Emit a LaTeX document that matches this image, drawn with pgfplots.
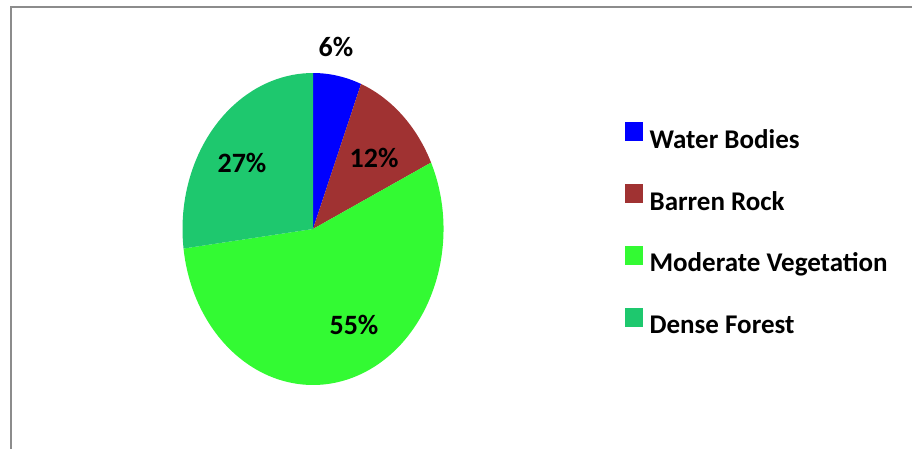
\documentclass[border=0pt]{standalone}
\usepackage{pgfplots}
\pgfplotsset{compat=1.18}
\usepackage{pgfplotstable}
\usepackage{fontspec}
\setmainfont{Carlito}
\definecolor{c0}{RGB}{0,0,255}
\definecolor{c1}{RGB}{160,50,50}
\definecolor{c2}{RGB}{51,250,51}
\definecolor{c3}{RGB}{30,200,110}
\definecolor{framegray}{RGB}{140,140,140}

\pgfplotstableread{
name value
Water 6
Barren 12
Moderate 55
Dense 27
}\piedata

\begin{document}
\begin{tikzpicture}
\begin{axis}[
  at={(0,0)}, anchor=south west,
  width=912pt, height=448pt, scale only axis,
  xmin=0, xmax=912, ymin=0, ymax=448,
  hide axis, clip=false,
  legend style={at={(axis cs:625,326)}, anchor=north west, draw=none, fill=none,
    font=\fontsize{27}{30}\selectfont\bfseries, row sep=32.5pt, inner sep=0pt,
    nodes={inner sep=2pt}},
  legend cell align=left,
  legend image code/.code={\fill[#1] (0pt,-1pt) rectangle (17pt,17pt);\path (22pt,0pt);},
]
\pgfmathsetmacro\pstart{90}
\pgfplotsforeachungrouped \i in {0,...,3}{%
  \pgfplotstablegetelem{\i}{value}\of\piedata
  \pgfmathsetmacro\pstop{\pstart-3.6*\pgfplotsretval}%
  \edef\tmp{\noexpand\fill[c\i] (axis cs:313,219) -- ([shift={(\pstart:130.5pt and 156pt)}]axis cs:313,219) arc[start angle=\pstart, end angle=\pstop, x radius=130.5pt, y radius=156pt] -- cycle;}%
  \tmp
  \global\let\pstart\pstop
}
\addlegendimage{c0}\addlegendentry{Water Bodies}
\addlegendimage{c1}\addlegendentry{Barren Rock}
\addlegendimage{c2}\addlegendentry{Moderate Vegetation}
\addlegendimage{c3}\addlegendentry{Dense Forest}
\node[font=\fontsize{28}{30}\selectfont\bfseries] at (axis cs:336,401) {6\%};
\node[font=\fontsize{28}{30}\selectfont\bfseries] at (axis cs:374,290) {12\%};
\node[font=\fontsize{28}{30}\selectfont\bfseries] at (axis cs:354,123) {55\%};
\node[font=\fontsize{28}{30}\selectfont\bfseries] at (axis cs:242,285) {27\%};
\draw[framegray, line width=2.5pt] (axis cs:11,-5) -- (axis cs:11,441) -- (axis cs:920,441);
\end{axis}
\pgfresetboundingbox
\path (0,0) rectangle (912pt,448pt);
\end{tikzpicture}
\end{document}
